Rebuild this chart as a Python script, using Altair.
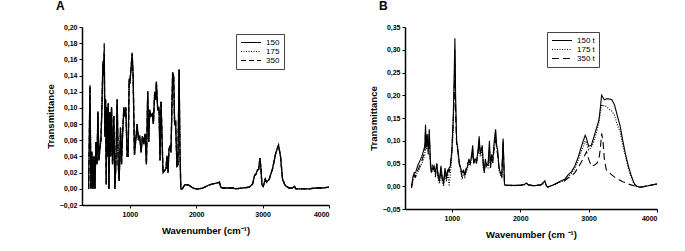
import altair as alt
import pandas as pd

# ---------------- Panel A ----------------
A_wn = [380, 400, 415, 430, 445, 460, 475, 490, 505, 520, 535, 550, 565, 580, 595, 605, 615, 625, 635, 645,
        655, 665, 675, 685, 700, 712, 725, 740, 760, 775, 790, 810, 825, 840, 860, 875, 890, 910, 925, 940,
        960, 975, 990, 1000, 1020, 1035, 1050, 1070, 1090, 1110, 1130, 1150, 1170, 1190, 1210, 1230, 1250, 1270, 1285, 1300,
        1320, 1340, 1355, 1375, 1390, 1400, 1420, 1440, 1455, 1470, 1485, 1500, 1520, 1545, 1560, 1575, 1590, 1605, 1620, 1645,
        1660, 1675, 1690, 1710, 1725, 1742, 1755, 1768, 1790, 1830, 1870, 1900, 1950, 2000, 2050, 2100, 2150, 2200, 2250, 2300,
        2350, 2370, 2400, 2500, 2550, 2600, 2700, 2800, 2850, 2880, 2900, 2920, 2940, 2960, 2975, 2990, 3010, 3040, 3060, 3100,
        3150, 3200, 3240, 3270, 3300, 3340, 3400, 3450, 3480, 3500, 3600, 3700, 3800, 3900, 4000]
A_150 = [0.0, 0.128, 0.0, 0.045, 0.0, 0.04, 0.0, 0.058, 0.03, 0.095, 0.035, 0.05, 0.06, 0.1, 0.155, 0.14, 0.168, 0.065, 0.11, 0.005,
         0.1, 0.04, 0.105, 0.0, 0.095, 0.04, 0.1, 0.03, 0.09, 0.0, 0.03, 0.11, 0.03, 0.01, 0.075, 0.03, 0.065, 0.1, 0.09, 0.1,
         0.04, 0.04, 0.135, 0.13, 0.15, 0.167, 0.14, 0.042, 0.06, 0.08, 0.06, 0.065, 0.045, 0.065, 0.055, 0.068, 0.03, 0.12, 0.058, 0.097,
         0.09, 0.092, 0.08, 0.12, 0.11, 0.132, 0.098, 0.1, 0.035, 0.108, 0.065, 0.02, 0.022, 0.025, 0.04, 0.02, 0.048, 0.053, 0.045, 0.143,
         0.14, 0.08, 0.082, 0.027, 0.03, 0.147, 0.05, 0.0, 0.0, 0.005, 0.005, 0.004, 0.001, 0.0, 0.0, 0.001, 0.003, 0.005, 0.006, 0.007,
         0.008, 0.002, 0.001, 0.001, 0.001, 0.0, 0.001, 0.002, 0.006, 0.017, 0.018, 0.023, 0.024, 0.038, 0.025, 0.005, 0.003, 0.012, 0.008, 0.012,
         0.025, 0.045, 0.054, 0.04, 0.012, 0.004, 0.001, 0.001, 0.003, 0.0, 0.0, 0.0, 0.001, 0.001, 0.002]
A_175 = [0.0, 0.126, 0.0, 0.044, 0.0, 0.041, 0.0, 0.057, 0.031, 0.094, 0.036, 0.05, 0.061, 0.1, 0.153, 0.141, 0.166, 0.066, 0.109, 0.006,
         0.099, 0.041, 0.104, 0.0, 0.094, 0.041, 0.099, 0.031, 0.089, 0.0, 0.031, 0.109, 0.031, 0.01, 0.074, 0.031, 0.064, 0.099, 0.089, 0.099,
         0.041, 0.041, 0.134, 0.129, 0.149, 0.165, 0.139, 0.043, 0.06, 0.079, 0.06, 0.064, 0.046, 0.064, 0.055, 0.067, 0.031, 0.119, 0.059, 0.096,
         0.089, 0.091, 0.08, 0.119, 0.109, 0.131, 0.097, 0.099, 0.036, 0.107, 0.065, 0.021, 0.022, 0.025, 0.04, 0.021, 0.047, 0.052, 0.045, 0.142,
         0.139, 0.08, 0.081, 0.028, 0.03, 0.146, 0.05, 0.0, 0.0, 0.005, 0.005, 0.004, 0.001, 0.0, 0.0, 0.001, 0.003, 0.005, 0.006, 0.007,
         0.008, 0.002, 0.001, 0.001, 0.001, 0.0, 0.001, 0.002, 0.006, 0.016, 0.018, 0.022, 0.024, 0.037, 0.025, 0.005, 0.003, 0.012, 0.008, 0.012,
         0.025, 0.044, 0.053, 0.04, 0.012, 0.004, 0.001, 0.001, 0.003, 0.0, 0.0, 0.0, 0.001, 0.001, 0.002]
A_350 = [0.0, 0.127, 0.0, 0.046, 0.0, 0.04, 0.0, 0.058, 0.03, 0.096, 0.035, 0.051, 0.06, 0.102, 0.158, 0.142, 0.18, 0.064, 0.111, 0.005,
         0.101, 0.04, 0.106, 0.0, 0.096, 0.04, 0.101, 0.03, 0.091, 0.0, 0.03, 0.111, 0.03, 0.01, 0.076, 0.03, 0.066, 0.101, 0.091, 0.101,
         0.04, 0.04, 0.136, 0.131, 0.151, 0.168, 0.141, 0.042, 0.061, 0.08, 0.061, 0.066, 0.045, 0.066, 0.056, 0.068, 0.03, 0.121, 0.058, 0.098,
         0.091, 0.093, 0.081, 0.121, 0.111, 0.133, 0.099, 0.101, 0.035, 0.109, 0.066, 0.02, 0.022, 0.025, 0.041, 0.02, 0.049, 0.054, 0.046, 0.144,
         0.141, 0.081, 0.083, 0.027, 0.03, 0.148, 0.05, 0.0, 0.0, 0.005, 0.005, 0.004, 0.001, 0.0, 0.0, 0.001, 0.003, 0.005, 0.006, 0.007,
         0.008, 0.002, 0.001, 0.001, 0.001, 0.0, 0.001, 0.002, 0.006, 0.017, 0.018, 0.023, 0.024, 0.038, 0.025, 0.005, 0.003, 0.012, 0.008, 0.012,
         0.025, 0.045, 0.054, 0.04, 0.012, 0.004, 0.001, 0.001, 0.003, 0.0, 0.0, 0.0, 0.001, 0.001, 0.002]
A_names = ["150", "175", "350"]
A_yticks = [-0.02, 0.0, 0.02, 0.04, 0.06, 0.08, 0.10, 0.12, 0.14, 0.16, 0.18, 0.20]

# ---------------- Panel B ----------------
B_wn = [410, 430, 450, 470, 500, 530, 560, 590, 605, 615, 625, 640, 655, 670, 685, 700, 720, 740, 760, 780,
        800, 820, 840, 860, 880, 900, 920, 940, 960, 980, 1000, 1020, 1035, 1045, 1055, 1070, 1090, 1110, 1130, 1150,
        1170, 1190, 1210, 1230, 1250, 1270, 1290, 1305, 1320, 1340, 1360, 1380, 1400, 1415, 1430, 1445, 1460, 1475, 1490, 1510,
        1530, 1550, 1565, 1580, 1600, 1620, 1640, 1655, 1670, 1690, 1710, 1730, 1750, 1770, 1800, 1900, 2000, 2060, 2090, 2120,
        2200, 2300, 2340, 2360, 2380, 2400, 2500, 2600, 2650, 2700, 2750, 2800, 2850, 2900, 2950, 2970, 3000, 3040, 3080, 3120,
        3150, 3170, 3190, 3210, 3230, 3260, 3300, 3340, 3380, 3420, 3460, 3500, 3540, 3580, 3620, 3660, 3700, 3750, 3800, 3900,
        4000]
B_150t = [-0.003, 0.02, 0.03, 0.03, 0.045, 0.055, 0.065, 0.08, 0.09, 0.135, 0.09, 0.115, 0.08, 0.125, 0.06, 0.03, 0.04, 0.045, 0.03, 0.05,
          0.02, 0.01, 0.045, 0.02, 0.005, 0.04, 0.015, 0.035, 0.04, 0.045, 0.08, 0.15, 0.25, 0.325, 0.2, 0.1, 0.08, 0.05, 0.04, 0.03,
          0.035, 0.025, 0.035, 0.045, 0.06, 0.05, 0.07, 0.09, 0.05, 0.06, 0.055, 0.075, 0.11, 0.07, 0.08, 0.09, 0.045, 0.03, 0.06, 0.045,
          0.05, 0.1, 0.04, 0.07, 0.06, 0.1, 0.125, 0.09, 0.08, 0.04, 0.03, 0.02, 0.105, 0.003, 0.002, 0.002, 0.002, 0.004, 0.007, 0.003,
          0.001, 0.003, 0.008, 0.012, 0.002, -0.002, 0.004, 0.012, 0.015, 0.025, 0.032, 0.045, 0.065, 0.09, 0.112, 0.105, 0.088, 0.09, 0.11, 0.13,
          0.145, 0.17, 0.2, 0.195, 0.19, 0.192, 0.192, 0.19, 0.178, 0.155, 0.133, 0.1, 0.07, 0.045, 0.025, 0.008, 0.0, -0.002, -0.001, 0.002,
          0.005]
B_175t = [-0.003, 0.01, 0.02, 0.025, 0.03, 0.04, 0.05, 0.06, 0.07, 0.1, 0.08, 0.1, 0.075, 0.11, 0.05, 0.03, 0.035, 0.04, 0.025, 0.045,
          0.015, 0.005, 0.04, 0.01, 0.0, 0.035, 0.01, 0.03, 0.0, 0.03, 0.07, 0.12, 0.22, 0.3, 0.18, 0.1, 0.07, 0.045, 0.035, 0.015,
          0.03, 0.02, 0.03, 0.04, 0.05, 0.045, 0.065, 0.08, 0.05, 0.055, 0.05, 0.07, 0.1, 0.065, 0.07, 0.085, 0.04, 0.03, 0.055, 0.04,
          0.04, 0.09, 0.04, 0.065, 0.05, 0.09, 0.12, 0.085, 0.075, 0.035, 0.025, 0.02, 0.1, 0.003, 0.002, 0.001, 0.002, 0.003, 0.006, 0.003,
          0.001, 0.003, 0.01, 0.01, 0.002, -0.002, 0.003, 0.01, 0.012, 0.02, 0.028, 0.04, 0.058, 0.08, 0.1, 0.095, 0.08, 0.085, 0.1, 0.12,
          0.14, 0.16, 0.18, 0.175, 0.178, 0.175, 0.17, 0.165, 0.155, 0.135, 0.12, 0.09, 0.065, 0.04, 0.02, 0.006, 0.0, -0.002, -0.001, 0.002,
          0.005]
B_350t = [-0.003, 0.015, 0.025, 0.02, 0.035, 0.045, 0.055, 0.07, 0.08, 0.12, 0.085, 0.105, 0.07, 0.115, 0.05, 0.035, 0.045, 0.035, 0.02, 0.05,
          0.025, 0.015, 0.035, 0.015, 0.01, 0.03, 0.02, 0.04, 0.03, 0.05, 0.075, 0.14, 0.2, 0.27, 0.16, 0.09, 0.075, 0.05, 0.035, 0.02,
          0.03, 0.03, 0.04, 0.05, 0.055, 0.05, 0.06, 0.075, 0.055, 0.06, 0.05, 0.07, 0.095, 0.075, 0.075, 0.08, 0.05, 0.035, 0.05, 0.05,
          0.045, 0.08, 0.05, 0.06, 0.055, 0.085, 0.11, 0.08, 0.07, 0.04, 0.03, 0.025, 0.095, 0.003, 0.002, 0.002, 0.002, 0.004, 0.007, 0.003,
          0.001, 0.003, 0.006, 0.01, 0.002, -0.002, 0.004, 0.012, 0.012, 0.018, 0.022, 0.03, 0.042, 0.055, 0.07, 0.076, 0.06, 0.044, 0.046, 0.05,
          0.06, 0.08, 0.116, 0.1, 0.06, 0.035, 0.03, 0.025, 0.02, 0.017, 0.013, 0.01, 0.008, 0.005, 0.003, 0.001, 0.0, -0.002, -0.001, 0.002,
          0.005]
B_names = ["150 t", "175 t", "350 t"]
B_yticks = [-0.05, 0.0, 0.05, 0.10, 0.15, 0.20, 0.25, 0.30, 0.35]

x_ticks = [1000, 2000, 3000, 4000]
FONT = "Liberation Sans"


def long_df(wn, names, series):
    rows = []
    for name, vals in zip(names, series):
        for w, v in zip(wn, vals):
            rows.append({"wn": w, "T": v, "s": name})
    return pd.DataFrame(rows)


ylab = "replace(format(datum.value, '.2f'), '.', ',')"


def panel(df, names, dashes, xdom, ydom, yticks, W, H, letter, xtitle, lx, ly, sw):
    return alt.Chart(df).mark_line(color="black", strokeWidth=sw).encode(
        x=alt.X("wn:Q", scale=alt.Scale(domain=xdom, nice=False, zero=False),
                axis=alt.Axis(values=x_ticks, format="d", title=xtitle, titlePadding=8)),
        y=alt.Y("T:Q", scale=alt.Scale(domain=ydom, nice=False, zero=False),
                axis=alt.Axis(values=yticks, labelExpr=ylab, title="Transmittance", titlePadding=4)),
        strokeDash=alt.StrokeDash("s:N", title=None,
                                  scale=alt.Scale(domain=names, range=dashes),
                                  legend=alt.Legend(orient="none", legendX=lx, legendY=ly,
                                                    strokeColor="#444", padding=4,
                                                    symbolType="stroke", symbolSize=400,
                                                    symbolStrokeWidth=1.2, symbolStrokeColor="black",
                                                    labelFont=FONT, labelFontSize=8, labelColor="black",
                                                    labelOffset=4, rowPadding=0, clipHeight=9)),
    ).properties(
        width=W, height=H,
        title=alt.TitleParams(letter, anchor="start", frame="group", dx=-26, offset=10,
                              fontSize=12, fontWeight="bold", font=FONT, color="black"),
    )


dfA = long_df(A_wn, A_names, [A_150, A_175, A_350])
dfB = long_df(B_wn, B_names, [B_150t, B_175t, B_350t])

chartA = panel(dfA, A_names, [[1, 0], [1, 1.5], [5, 3]], [280, 4000], [-0.02, 0.20], A_yticks,
               247, 178, "A", "Wavenumber (cm⁻¹)", 154, 7, 1.3)
chartB = panel(dfB, B_names, [[1, 0], [1, 1.5], [7, 4]], [315, 4000], [-0.05, 0.35], B_yticks,
               252, 182, "B", "Wavenumber (cm ⁻¹)", 142, 5, 1.1)

chart = alt.hconcat(chartA, chartB, spacing=36).resolve_scale(strokeDash="independent").properties(
    padding={"left": 45, "top": 0, "right": 5, "bottom": 5}
).configure_view(stroke=None).configure_axis(
    labelFont=FONT, labelFontSize=7, labelFontWeight="bold", labelColor="black",
    titleFont=FONT, titleFontSize=9.5, titleFontWeight="bold", titleColor="black",
    domainColor="black", domainWidth=1.5, tickColor="black", tickSize=3, tickWidth=1,
    grid=False, labelPadding=2
)

chart.save("out.html", embed_options={"renderer": "svg", "actions": False})
